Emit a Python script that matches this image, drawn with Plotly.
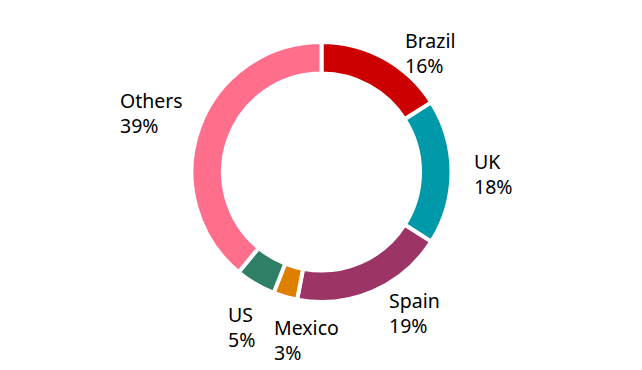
import plotly.graph_objects as go

labels = ["Brazil", "UK", "Spain", "Mexico", "US", "Others"]
values = [16, 18, 19, 3, 5, 39]
colors = ["#cc0000", "#0099aa", "#9c3566", "#de7f00", "#2e7f66", "#ff6f8c"]

# label text positions (pixel coords of left edge / vertical middle)
label_x = [403, 472, 387, 272, 226, 118]
label_y = [53, 174, 313, 340, 327, 113]

W, H = 642, 370
cx, cy, r = 321.5, 172, 130

fig = go.Figure(go.Pie(
    labels=labels, values=values, sort=False, direction="clockwise",
    rotation=0, hole=0.758,
    marker=dict(colors=colors, line=dict(color="white", width=4)),
    textinfo="none", hoverinfo="label+percent",
    domain=dict(x=[(cx - r) / W, (cx + r) / W],
                y=[(H - cy - r) / H, (H - cy + r) / H]),
    showlegend=False,
))

for lab, v, x, y in zip(labels, values, label_x, label_y):
    fig.add_annotation(
        x=x / W, y=1 - y / H, xref="paper", yref="paper",
        text=f"{lab}<br>{v}%", showarrow=False,
        xanchor="left", yanchor="middle", align="left",
        font=dict(family="Noto Sans", size=19.5, color="#000000"),
    )

fig.update_layout(
    width=W, height=H, margin=dict(l=0, r=0, t=0, b=0),
    paper_bgcolor="white", plot_bgcolor="white",
)
fig.write_html("out.html")
